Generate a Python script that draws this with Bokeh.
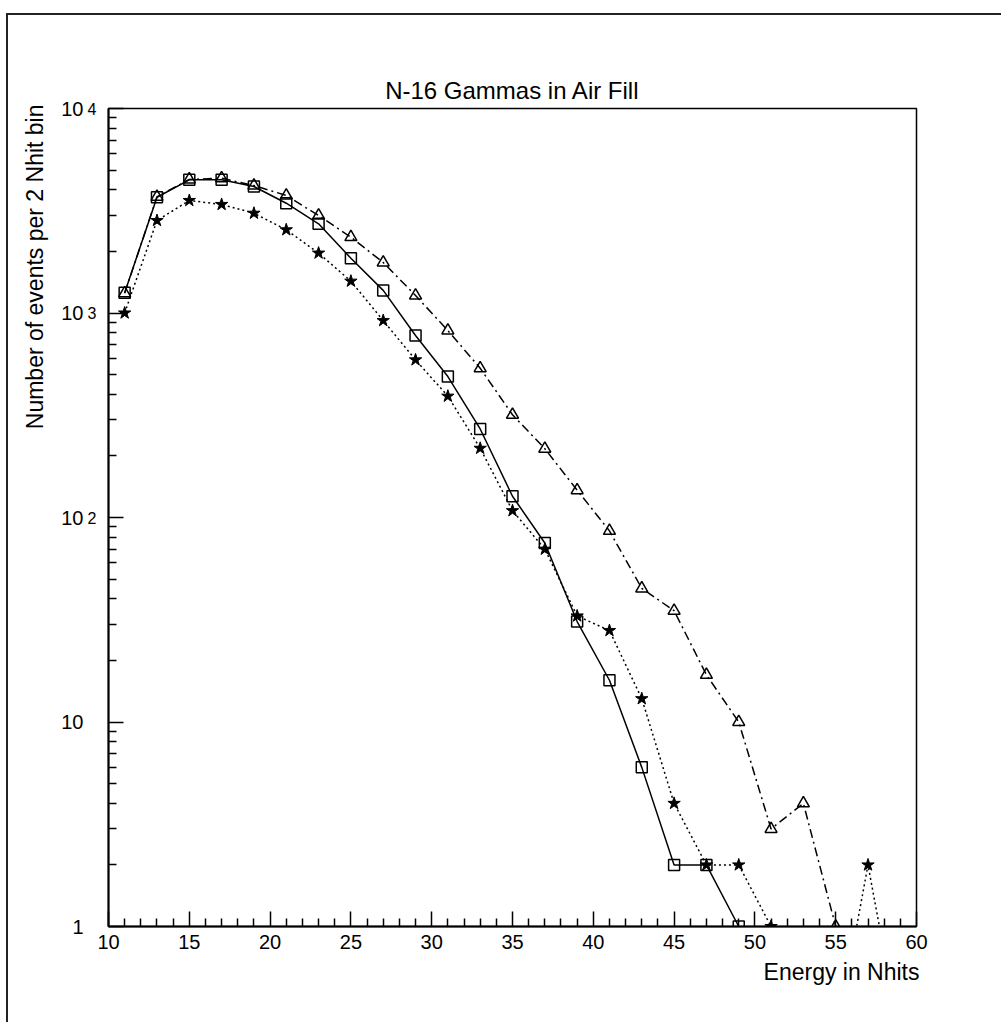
from bokeh.plotting import figure
from bokeh.models import FixedTicker, LogAxis, Range1d, Title
from bokeh.embed import file_html
from bokeh.resources import INLINE

# ---- data (2-Nhit bins, bin centres) ----
EMPTY = 0.28  # empty bins: drawn below the axis floor as in the original
nhit = [11, 13, 15, 17, 19, 21, 23, 25, 27, 29, 31, 33, 35, 37, 39, 41, 43, 45, 47, 49, 51, 53, 55, 57, 59]
squares = [1256, 3680, 4480, 4480, 4155, 3442, 2730, 1853, 1290, 776, 489, 271, 127, 75, 31, 16, 6, 2, 2, 1,
           EMPTY, EMPTY, EMPTY, EMPTY, EMPTY]
triangles = [1250, 3700, 4500, 4560, 4200, 3755, 2997, 2349, 1766, 1218, 821, 537, 318, 217, 136, 86, 45, 35, 17, 10,
             3, 4, 1, EMPTY, EMPTY]
stars = [1000, 2833, 3550, 3395, 3075, 2552, 1963, 1431, 918, 590, 392, 218, 108, 70, 33, 28, 13, 4, 2, 2,
         1, EMPTY, EMPTY, 2, EMPTY]

x_major = [10, 15, 20, 25, 30, 35, 40, 45, 50, 55, 60]
x_minor = [v for v in range(10, 61) if v % 5 != 0]
y_major = [1, 10, 100, 1000, 10000]
y_minor = [m * d for d in [1, 10, 100, 1000] for m in range(2, 10)]
y_base_labels = ["1", "10", "10", "10", "10"]
y_exp_labels = ["", "", "2", "3", "4"]

title_text = "N-16 Gammas in Air Fill"
xlabel_text = "Energy in Nhits"
ylabel_text = "Number of events per 2 Nhit bin"

FONT = "Liberation Sans"

p = figure(frame_width=808, frame_height=818, y_axis_type="log",
           x_range=Range1d(10, 60), y_range=Range1d(1, 1e4),
           output_backend="svg", toolbar_location=None,
           min_border_left=99, min_border_top=93, min_border_right=85, min_border_bottom=96,
           title=title_text)
p.margin = (13, 0, 0, 6)
p.styles = {"border-top": "2px solid #222", "border-left": "2px solid #222"}

p.title.align = "center"
p.title.text_font = FONT
p.title.text_font_size = "24px"
p.title.text_font_style = "normal"
p.title.text_color = "black"

p.xgrid.visible = False
p.ygrid.visible = False
p.outline_line_color = "black"
p.outline_line_width = 1.5
p.background_fill_color = "white"
p.border_fill_color = "white"

y_ticker = FixedTicker(ticks=y_major, minor_ticks=y_minor)
p.xaxis.ticker = FixedTicker(ticks=x_major, minor_ticks=x_minor)
p.yaxis.ticker = y_ticker

# inner left axis: ticks + decade exponents
yax = p.yaxis[0]
yax.major_label_overrides = {v: t for v, t in zip(y_major, y_exp_labels)}
yax.major_label_text_font_size = "16px"
yax.major_label_text_baseline = "alphabetic"
yax.major_label_standoff = 12

for ax in (p.xaxis[0], yax):
    ax.axis_line_width = 2
    ax.axis_line_color = "black"
    ax.major_tick_in = 15
    ax.major_tick_out = 0
    ax.minor_tick_in = 8
    ax.minor_tick_out = 0
    ax.major_tick_line_width = 1.5
    ax.minor_tick_line_width = 1.5
    ax.major_tick_line_color = "black"
    ax.minor_tick_line_color = "black"
    ax.major_label_text_font = FONT
    ax.major_label_text_color = "black"
p.xaxis.major_label_text_font_size = "20px"
p.xaxis.major_label_standoff = 8

# outer left axis: the "10" bases of the decade labels
base_axis = LogAxis(ticker=y_ticker,
                    major_label_overrides={v: t for v, t in zip(y_major, y_base_labels)},
                    axis_line_color=None, major_tick_line_color=None, minor_tick_line_color=None,
                    major_tick_in=0, major_tick_out=0, minor_tick_in=0, minor_tick_out=0,
                    major_label_standoff=1, major_label_text_font=FONT,
                    major_label_text_font_size="20px", major_label_text_color="black")
p.add_layout(base_axis, "left")

# axis titles
p.add_layout(Title(text=ylabel_text, align="right", offset=-4, standoff=22, text_font=FONT,
                   text_font_size="23px", text_font_style="normal", text_color="black"), "left")
p.add_layout(Title(text=xlabel_text, align="right", offset=-3, standoff=11, text_font=FONT,
                   text_font_size="23px", text_font_style="normal", text_color="black"), "below")

# series
p.line(nhit, triangles, line_color="black", line_width=1.5, line_dash="9 4 2 4")
p.scatter(nhit, triangles, marker="triangle", size=12, fill_color=None, line_color="black", line_width=1.5)

p.line(nhit, stars, line_color="black", line_width=1.5, line_dash="2 3")
p.scatter(nhit, stars, marker="star", size=13, fill_color="black", line_color="black", line_width=1)

p.line(nhit, squares, line_color="black", line_width=1.5)
p.scatter(nhit, squares, marker="square", size=11, fill_color=None, line_color="black", line_width=1.5)

open("out.html", "w").write(file_html(p, INLINE))
